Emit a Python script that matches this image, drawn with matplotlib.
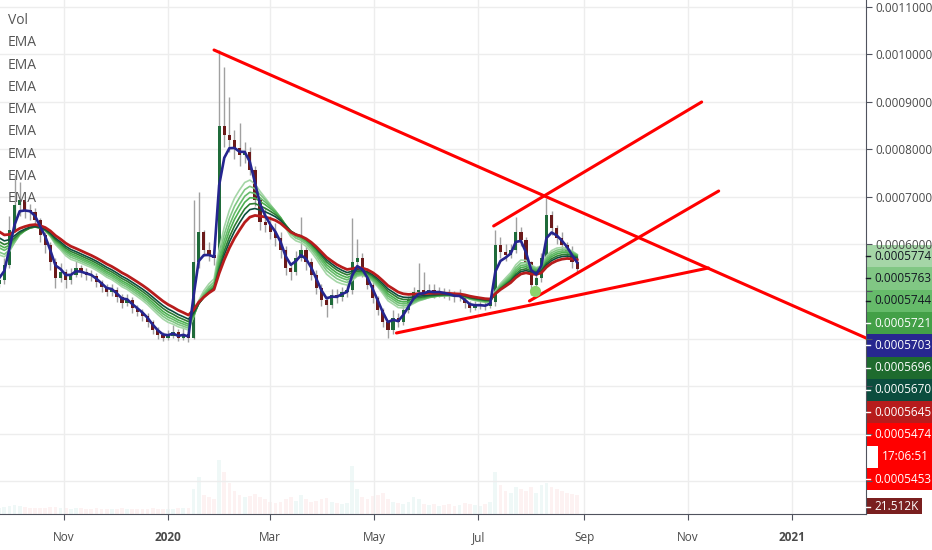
import matplotlib
matplotlib.use('Agg')
import matplotlib.pyplot as plt
import matplotlib.dates as mdates
from matplotlib.patches import Rectangle
from matplotlib.lines import Line2D
import numpy as np
import pandas as pd

plt.rcParams['font.family'] = ['Open Sans', 'DejaVu Sans']

P = 1e-7  # prices below are in units of 0.0000001

# 3-day candles from 2019-09-24
close = [5250, 5560, 6300, 6820, 6930, 6720, 6680, 6510, 6190, 5980,
         5620, 5280, 5410, 5240, 5350, 5490, 5410, 5350, 5320, 5200,
         5090, 4990, 5030, 4880, 4760, 4820, 4650, 4570, 4480, 4350,
         4180, 4080, 4020, 4060, 4140, 4020, 4100, 4020, 5620, 6250,
         5870, 5770, 5700, 8500, 8300, 8190, 8030, 7880, 7940, 7560,
         6930, 6460, 6400, 6250, 6130, 5870, 5490, 5410, 5700, 5870,
         5620, 5350, 5070, 4820, 4710, 4920, 4880, 4990, 5030, 5620,
         5700, 5410, 5140, 4860, 4610, 4350, 4180, 4440, 4350, 4610,
         4820, 4990, 5030, 4970, 5030, 4970, 4990, 4950, 4920, 4880,
         4900, 4760, 4650, 4690, 4710, 4690, 4780, 5980, 5830, 5770,
         5870, 6250, 6080, 5620, 5140, 5280, 5700, 6610, 6340, 6130,
         5980, 5830, 5620, 5474]
high = [5350, 5700, 6600, 7460, 7300, 6900, 6850, 6750, 6550, 6250,
        6050, 5700, 5600, 5480, 5500, 5650, 5560, 5500, 5450, 5380,
        5250, 5150, 5150, 5100, 4950, 4950, 4880, 4720, 4620, 4550,
        4400, 4250, 4150, 4180, 4300, 4200, 4250, 4200, 6930, 7100,
        6300, 6050, 5900, 10090, 9730, 9100, 8400, 8550, 8150, 8050,
        7650, 7000, 6750, 6600, 6450, 6250, 5950, 5600, 5850, 6570,
        5950, 5700, 5450, 5150, 4900, 5050, 5050, 5100, 5150, 6550,
        6100, 5800, 5500, 5200, 4900, 4650, 4400, 4600, 4550, 4700,
        4900, 5100, 5600, 5400, 5150, 5150, 5100, 5080, 5050, 5000,
        5050, 4950, 4800, 4800, 4850, 4800, 4850, 6300, 6150, 6000,
        6000, 6570, 6350, 6150, 5650, 5400, 5800, 6970, 6700, 6400,
        6250, 6050, 5950, 5700]
low = [5100, 5150, 5500, 6250, 6600, 6550, 6500, 6350, 6050, 5800,
       5450, 5070, 5200, 5070, 5150, 5300, 5300, 5250, 5220, 5100,
       4980, 4900, 4900, 4780, 4650, 4700, 4550, 4480, 4380, 4250,
       4100, 3990, 3950, 3970, 4020, 3950, 3980, 3930, 4000, 5500,
       5750, 5650, 5550, 5650, 8050, 7950, 7800, 7650, 7700, 7450,
       6800, 6300, 6250, 6100, 5950, 5700, 5350, 5250, 5350, 5650,
       5450, 5250, 4950, 4700, 4460, 4650, 4750, 4800, 4880, 4950,
       5500, 5300, 5050, 4750, 4500, 4250, 4020, 4100, 4250, 4300,
       4550, 4750, 4900, 4850, 4880, 4850, 4880, 4850, 4820, 4780,
       4800, 4650, 4570, 4600, 4620, 4600, 4650, 4700, 5700, 5650,
       5700, 5800, 5950, 5500, 4920, 5050, 5200, 5600, 6200, 6000,
       5850, 5700, 5500, 5400]
vol = [30, 35, 40, 45, 40, 35, 30, 30, 28, 30, 32, 35, 30, 28, 25, 30, 28, 26, 25, 27,
       25, 24, 26, 25, 28, 24, 25, 26, 24, 25, 27, 25, 24, 26, 25, 27, 28, 30,
       120, 180, 90, 80, 70, 260, 200, 150, 110, 90, 80, 85,
       95, 80, 70, 60, 55, 60, 70, 80, 65, 90, 70, 60, 65, 70, 75, 60, 55, 50, 55,
       230, 120, 80, 70, 85, 90, 100, 70, 60, 55, 50, 60, 80, 70, 50, 45, 50, 40, 45,
       50, 40, 45, 55, 50, 45, 40, 50, 60,
       200, 140, 110, 100, 130, 120, 110, 130, 100, 140, 150, 130, 120, 110, 100, 95, 90]

# EMA ribbon: span in days, value at left edge, colour
ema_span = [8, 28, 32, 36, 40, 45, 50, 58]
ema_first = [5280, 5770, 5830, 5920, 5980, 6050, 6130, 6260]
ema_color = ['#25258f', '#a5d6a7', '#81c784', '#66bb6a', '#4caf50',
             '#2e7d32', '#0d4f3d', '#b71c1c']

# right-hand price labels
box_text = ['0.0005774', '0.0005763', '0.0005744', '0.0005721', '0.0005703',
            '0.0005696', '0.0005670', '0.0005645', '0.0005474', '17:06:51', '0.0005453']
box_color = ['#a5d6a7', '#81c784', '#66bb6a', '#43a047', '#27278f',
             '#1e6b2e', '#0b4d3e', '#b71c1c', '#ff0000', '#ff0000', '#ff0000']
box_tcolor = ['#131722', '#131722', '#131722', 'white', 'white',
              'white', 'white', 'white', 'white', 'white', 'white']

# drawn trend lines
trend_d0 = ['2020-01-28', '2020-07-10', '2020-07-31', '2020-05-14']
trend_p0 = [10093, 6380, 4798, 4122]
trend_d1 = ['2021-02-14', '2020-11-09', '2020-11-19', '2020-11-13']
trend_p1 = [4007, 8996, 7118, 5494]

tick_dates = ['2019-11-01', '2020-01-01', '2020-03-01', '2020-05-01',
              '2020-07-01', '2020-09-01', '2020-11-01', '2021-01-01']
tick_names = ['Nov', '2020', 'Mar', 'May', 'Jul', 'Sep', 'Nov', '2021']

dates = pd.date_range('2019-09-24', periods=len(close), freq='3D')
xn = mdates.date2num(dates)
c = np.array(close) * P
h = np.array(high) * P
l = np.array(low) * P
o = np.r_[5150 * P, c[:-1]]
up = c >= o

fig = plt.figure(figsize=(9.32, 5.5), dpi=100)
W, H = 932, 550
ax = fig.add_axes([0, 36 / H, 866 / W, 514 / H])
axv = ax.twinx()
ax.set_zorder(axv.get_zorder() + 1)
ax.patch.set_visible(False)

# volume
axv.bar(xn, vol, width=2.2, color=np.where(up, '#26a69a', '#ef5350'), alpha=0.07)
axv.set_ylim(0, 2475)
axv.set_yticks([])
for s in axv.spines.values():
    s.set_visible(False)

# candles
ax.vlines(xn, l, h, color='#a0a0a0', lw=1, zorder=2)
ax.bar(xn, np.abs(c - o), bottom=np.minimum(o, c), width=1.9,
       color=np.where(up, '#1f6b3a', '#6b1a1a'), zorder=3)

# EMAs
for span, first, col in zip(ema_span, ema_first, ema_color):
    a = 2 / (span / 3 + 1)
    e = [first * P]
    for v in c[1:]:
        e.append(e[-1] + a * (v - e[-1]))
    lw, z = 1.2, 4
    if col == '#b71c1c':
        lw, z = 2.0, 5
    if col == '#25258f':
        lw, z = 1.9, 6
    ax.plot(xn, e, color=col, lw=lw, zorder=z)

# trend lines
for d0, p0, d1, p1 in zip(trend_d0, trend_p0, trend_d1, trend_p1):
    ax.plot(mdates.datestr2num([d0, d1]), [p0 * P, p1 * P], color='#ff0000', lw=2.2, zorder=7,
            solid_capstyle='round')
ax.plot(mdates.datestr2num('2020-08-03'), 5008 * P, 'o', ms=7, color='#8bd36b', zorder=8)

ax.set_xlim(mdates.datestr2num('2019-09-24') + 0.46, mdates.datestr2num('2021-02-13') + 0.4)
ax.set_ylim(303 * P, 11148 * P)

ax.yaxis.tick_right()
yt = np.arange(1, 12) * 1e-4
ax.set_yticks(yt)
ax.set_yticklabels(['%.7f' % v if v > 0.00055 else '' for v in yt])
ax.set_xticks(mdates.datestr2num(tick_dates))
ax.set_xticklabels(tick_names)
for t in ax.get_xticklabels():
    if t.get_text() in ('2020', '2021'):
        t.set_fontweight('bold')
ax.tick_params(axis='y', length=4, color='#50535e', labelsize=8.5, labelcolor='#4a4a4a', pad=3)
ax.tick_params(axis='x', length=4, color='#50535e', labelsize=8.5, labelcolor='#4a4a4a', pad=8)
ax.grid(color='#ededed', lw=1)
ax.set_axisbelow(True)
for s in ('top', 'left'):
    ax.spines[s].set_visible(False)
ax.spines['right'].set_color('#50535e')
ax.spines['bottom'].set_color('#50535e')

# indicator names
fig.text(8 / W, 1 - 21 / H, 'Vol', fontsize=10, color='#555555', va='center')
for k in range(8):
    fig.text(8 / W, 1 - (43 + 22.2 * k) / H, 'EMA', fontsize=10, color='#555555', va='center')

# price label stack
bh = 22.3
for k, (txt, fc, tc) in enumerate(zip(box_text, box_color, box_tcolor)):
    top = 245 + bh * k
    if txt == '17:06:51':
        fig.add_artist(Rectangle((866 / W, 1 - (top + bh) / H), 12 / W, bh / H,
                                 transform=fig.transFigure, fc='white', ec='none'))
        fig.add_artist(Rectangle((878 / W, 1 - (top + bh) / H), 54 / W, bh / H,
                                 transform=fig.transFigure, fc=fc, ec='none'))
        fig.text(905 / W, 1 - (top + bh / 2) / H, txt, fontsize=8.5, color=tc,
                 ha='center', va='center')
        continue
    fig.add_artist(Rectangle((866 / W, 1 - (top + bh) / H), 66 / W, bh / H,
                             transform=fig.transFigure, fc=fc, ec='none'))
    fig.add_artist(Line2D([866 / W, 870 / W], [1 - (top + bh / 2) / H] * 2,
                          transform=fig.transFigure, color=tc, lw=1))
    fig.text(874 / W, 1 - (top + bh / 2) / H, txt, fontsize=8.5, color=tc, va='center')

fig.add_artist(Rectangle((866 / W, 1 - 514 / H), 56 / W, 16 / H,
                         transform=fig.transFigure, fc='#7a1f1f', ec='none'))
fig.add_artist(Line2D([866 / W, 870 / W], [1 - 507 / H] * 2,
                      transform=fig.transFigure, color='white', lw=1))
fig.text(874 / W, 1 - 507 / H, '21.512K', fontsize=8.5, color='white', va='center')

fig.savefig('out.png', dpi=100)
